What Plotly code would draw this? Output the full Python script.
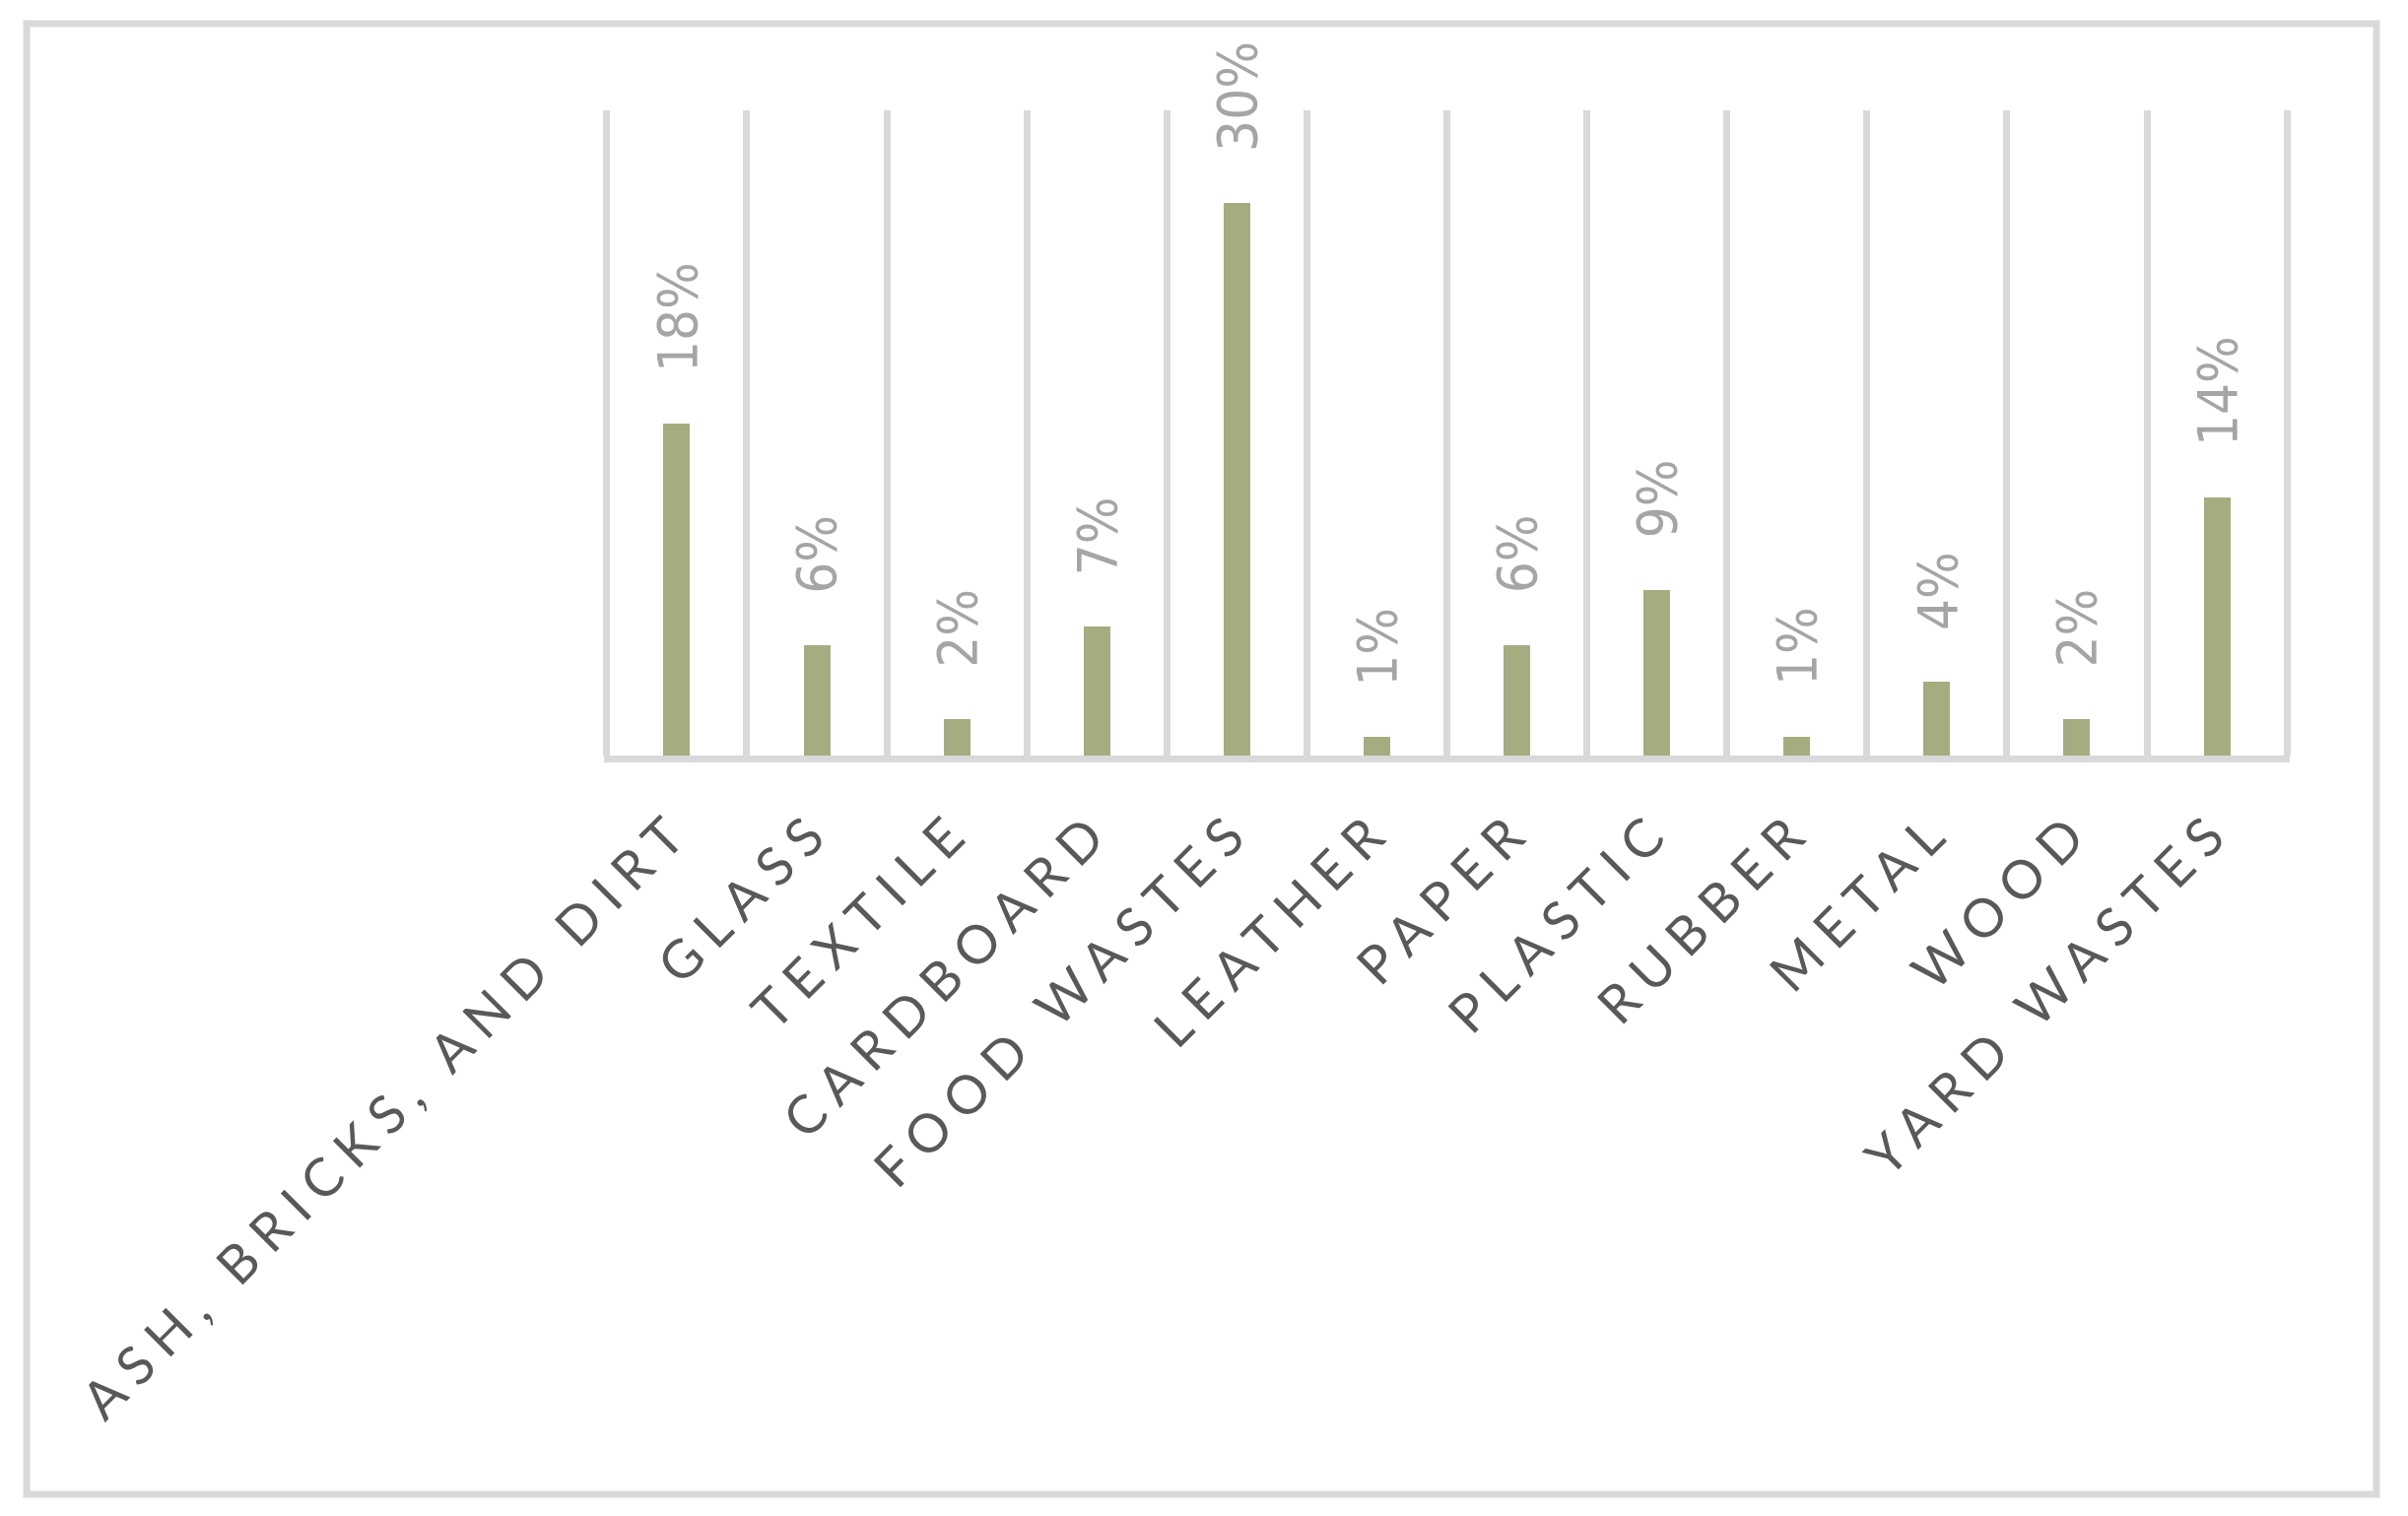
import plotly.graph_objects as go

categories = ['ASH, BRICKS, AND DIRT', 'GLASS', 'TEXTILE', 'CARDBOARD', 'FOOD WASTES',
              'LEATHER', 'PAPER', 'PLASTIC', 'RUBBER', 'METAL', 'WOOD', 'YARD WASTES']
shares = [0.18, 0.06, 0.02, 0.07, 0.30, 0.01, 0.06, 0.09, 0.01, 0.04, 0.02, 0.14]
share_labels = ['18%', '6%', '2%', '7%', '30%', '1%', '6%', '9%', '1%', '4%', '2%', '14%']

# page has an 8px body margin, so the figure is drawn 8px smaller and everything moved up/left
OFF = 8
W, H = 2444 - OFF, 1539 - OFF
PAD = 0.02  # widen the x range a little so the edge gridlines get drawn
cat_w = (2321.5 - 615.5) / 12
L = round(615.5 - PAD * cat_w) - OFF
R = 2444 - round(2321.5 + PAD * cat_w)
T = 112 - OFF
B = 1539 - 767
pw = W - L - R
ph = H - T - B


def px(x):
    return (x - OFF - L) / pw


def py(y):
    return (H - B - (y - OFF)) / ph


fig = go.Figure(go.Bar(x=categories, y=shares, width=0.19,
                       marker_color='#a5ac80', marker_line_width=0))

for c, v, lab in zip(categories, shares, share_labels):
    fig.add_annotation(x=c, y=v, text=lab, showarrow=False, textangle=-90,
                       yanchor='bottom', xanchor='center', yshift=50,
                       font=dict(family='DejaVu Sans Condensed, DejaVu Sans', size=56, color='#a5a5a5'))

# chart area border
fig.add_shape(type='rect', xref='paper', yref='paper',
              x0=px(27), x1=px(2412), y0=py(1517), y1=py(24),
              line=dict(color='#d9d9d9', width=7), fillcolor='rgba(0,0,0,0)', layer='below')

fig.update_layout(
    width=W, height=H,
    margin=dict(l=L, r=R, t=T, b=B),
    paper_bgcolor='white', plot_bgcolor='white',
    showlegend=False,
    bargap=0,
)
fig.update_xaxes(type='category', tickson='boundaries', range=[-0.5 - PAD, 11.5 + PAD],
                 showgrid=True, gridcolor='#d9d9d9', gridwidth=7,
                 showline=True, linecolor='#d9d9d9', linewidth=7, ticks='',
                 tickangle=-45, tickfont=dict(family='Lato', size=54, color='#595959'),
                 ticklabelstandoff=14)
fig.update_yaxes(visible=False, range=[0, 0.35], showgrid=False, zeroline=False)

js = "document.querySelectorAll('.xtick text').forEach(function(t){t.style.letterSpacing='12px';});"
fig.write_html("out.html", post_script=js)
